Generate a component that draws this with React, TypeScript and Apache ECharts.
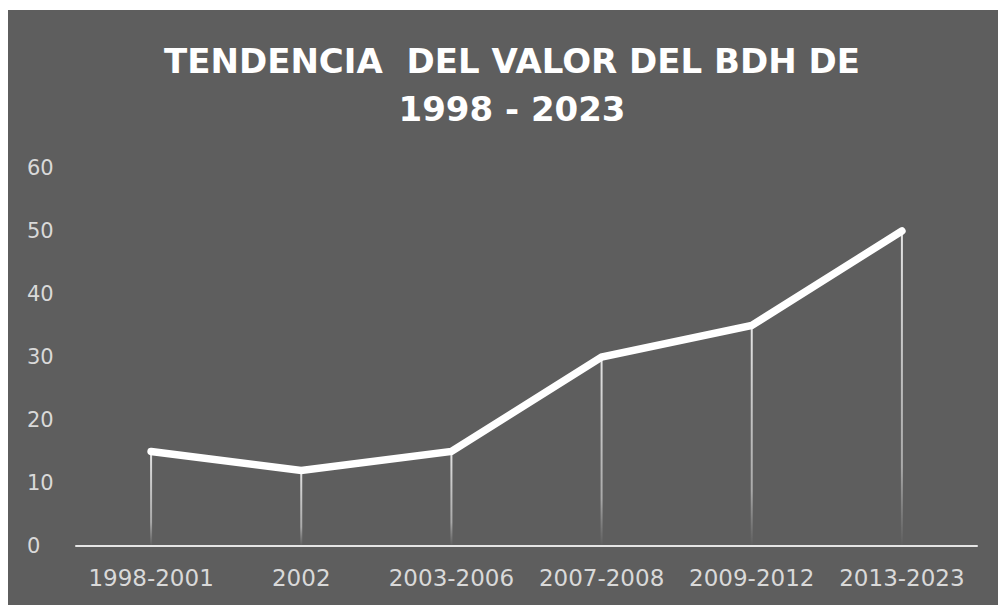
import React, { useEffect, useRef } from "react";
import * as echarts from "echarts";

const categories = ["1998-2001", "2002", "2003-2006", "2007-2008", "2009-2012", "2013-2023"];
const values = [15, 12, 15, 30, 35, 50];
const titleText = "TENDENCIA  DEL VALOR DEL BDH DE\n1998 - 2023";

export default function App() {
  const ref = useRef<HTMLDivElement>(null);
  useEffect(() => {
    if (!ref.current) return;
    const chart = echarts.init(ref.current, undefined, { renderer: "svg" });
    chart.setOption({
      animation: false,
      backgroundColor: "#5e5e5e",
      title: {
        text: titleText,
        left: 499,
        textAlign: "center",
        top: 22,
        textStyle: {
          color: "#ffffff",
          fontFamily: "DejaVu Sans",
          fontWeight: "bold",
          fontSize: 34,
          lineHeight: 48,
        },
      },
      grid: { left: 68, right: 21, top: 158, bottom: 59, containLabel: false },
      xAxis: {
        type: "category",
        data: categories,
        boundaryGap: true,
        axisLine: { show: true, lineStyle: { color: "#e6e6e6", width: 2 } },
        axisTick: { show: false },
        axisLabel: {
          color: "#d9d9d9",
          fontFamily: "DejaVu Sans",
          fontSize: 23,
          margin: 20,
          interval: 0,
        },
        splitLine: { show: false },
      },
      yAxis: {
        type: "value",
        min: 0,
        max: 60,
        interval: 10,
        axisLine: { show: false },
        axisTick: { show: false },
        splitLine: { show: false },
        axisLabel: {
          color: "#d9d9d9",
          fontFamily: "DejaVu Sans",
          fontSize: 21,
          align: "left",
          margin: 49,
        },
      },
      series: [
        {
          type: "bar",
          data: values,
          barWidth: 2,
          silent: true,
          itemStyle: {
            color: new echarts.graphic.LinearGradient(0, 0, 0, 1, [
              { offset: 0, color: "rgba(235,235,235,0.95)" },
              { offset: 0.75, color: "rgba(220,220,220,0.6)" },
              { offset: 1, color: "rgba(200,200,200,0)" },
            ]),
          },
          z: 1,
        },
        {
          type: "line",
          data: values,
          symbol: "none",
          lineStyle: { color: "#ffffff", width: 7.5, cap: "round", join: "miter" },
          z: 3,
        },
      ],
    });
    return () => chart.dispose();
  }, []);
  return (
    <div
      ref={ref}
      style={{ position: "absolute", left: 8, top: 10, width: 990, height: 595 }}
    />
  );
}
